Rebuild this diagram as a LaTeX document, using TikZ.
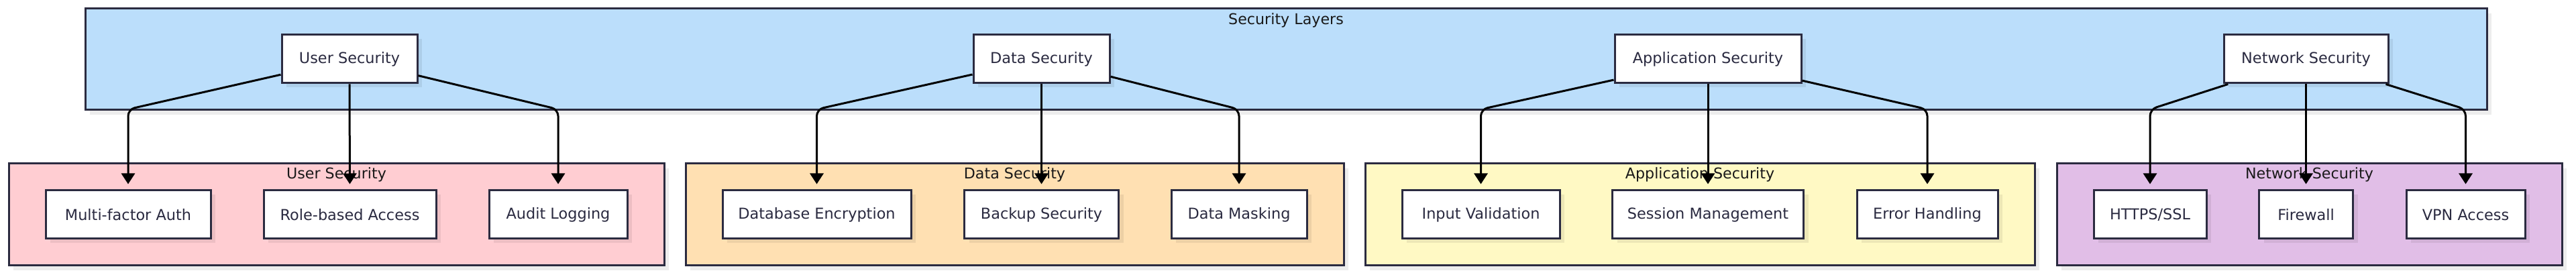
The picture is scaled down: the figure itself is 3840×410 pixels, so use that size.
\documentclass[tikz,border=0pt]{standalone}
\usepackage{fontspec}
\setmainfont{DejaVu Sans}
\newfontfamily\titlefont{DejaVu Sans}
\usetikzlibrary{arrows.meta,shadows}
\definecolor{bordc}{HTML}{2B2B40}
\definecolor{txtc}{HTML}{2A2A40}
\definecolor{blayer}{HTML}{BBDEFB}
\definecolor{cpink}{HTML}{FFCDD2}
\definecolor{corange}{HTML}{FFE0B2}
\definecolor{cyellow}{HTML}{FFF9C4}
\definecolor{cpurple}{HTML}{E1BEE7}
\tikzset{
  cluster/.style={draw=bordc, line width=1.5pt, inner sep=0pt,
    drop shadow={shadow xshift=3.5pt, shadow yshift=-3.5pt, opacity=0.07, fill=black}},
  ctitle/.style={font=\titlefont\fontsize{11.1pt}{13pt}\selectfont, text=black!90, inner sep=0pt, anchor=base},
  box/.style={draw=bordc, fill=white, line width=1.5pt, minimum height=36pt, inner sep=0pt,
    font=\fontsize{11.2pt}{13pt}\selectfont, text=txtc,
    drop shadow={shadow xshift=3.5pt, shadow yshift=-3pt, opacity=0.07, fill=black}},
  edge/.style={draw=black, line width=1.5pt, rounded corners=5pt,
    -{Triangle[width=10pt,length=8pt]}, shorten >=4pt}
}
\begin{document}
\begin{tikzpicture}[x=0.5pt,y=-0.5pt]
\useasboundingbox (0,0) rectangle (3840,410);
% clusters
\node[cluster, fill=blayer, minimum width=1790pt, minimum height=75.65pt] (layers) at (1917,88.35) {};
\node[cluster, fill=cpink, minimum width=488.5pt, minimum height=76pt] (cuser) at (501.5,320) {};
\node[cluster, fill=corange, minimum width=490.5pt, minimum height=76pt] (cdata) at (1512.5,320) {};
\node[cluster, fill=cyellow, minimum width=499pt, minimum height=76pt] (capp) at (2534,320) {};
\node[cluster, fill=cpurple, minimum width=376.5pt, minimum height=76pt] (cnet) at (3442.5,320) {};
% titles
\node[ctitle] (tlayers) at (1917,37) {Security Layers};
\node[ctitle] (tuser) at (501.5,267) {User Security};
\node[ctitle] (tdata) at (1512.5,267) {Data Security};
\node[ctitle] (tapp) at (2534,267) {Application Security};
\node[ctitle] (tnet) at (3442.5,267) {Network Security};
% top nodes
\node[box, minimum width=101pt] (us) at (521,88) {User Security};
\node[box, minimum width=101.5pt] (ds) at (1552.5,88) {Data Security};
\node[box, minimum width=139pt] (as) at (2546,88) {Application Security};
\node[box, minimum width=122.5pt] (ns) at (3437.5,88) {Network Security};
% leaves
\node[box, minimum width=123pt] (mfa) at (191,320) {Multi-factor Auth};
\node[box, minimum width=128.5pt] (rba) at (521.5,320) {Role-based Access};
\node[box, minimum width=103pt] (al) at (832,320) {Audit Logging};
\node[box, minimum width=140.5pt] (de) at (1217.5,320) {Database Encryption};
\node[box, minimum width=115pt] (bs) at (1552.5,320) {Backup Security};
\node[box, minimum width=101pt] (dm) at (1847,320) {Data Masking};
\node[box, minimum width=117.5pt] (iv) at (2207.5,320) {Input Validation};
\node[box, minimum width=142.5pt] (sm) at (2546,320) {Session Management};
\node[box, minimum width=105pt] (eh) at (2873,320) {Error Handling};
\node[box, minimum width=84pt] (https) at (3205,320) {HTTPS/SSL};
\node[box, minimum width=70pt] (fw) at (3437.5,320) {Firewall};
\node[box, minimum width=88.5pt] (vpn) at (3675.5,320) {VPN Access};
% bend points
\coordinate (b1) at (191,163);
\coordinate (b2) at (832,163);
\coordinate (b3) at (1217.5,163);
\coordinate (b4) at (1847,163);
\coordinate (b5) at (2207.5,163);
\coordinate (b6) at (2873,163);
\coordinate (b7) at (3205,163);
\coordinate (b8) at (3675.5,163);
% edges
\draw[edge] (us) -- (b1) -- (mfa.north);
\draw[edge] (us.south) -- (rba.north);
\draw[edge] (us) -- (b2) -- (al.north);
\draw[edge] (ds) -- (b3) -- (de.north);
\draw[edge] (ds.south) -- (bs.north);
\draw[edge] (ds) -- (b4) -- (dm.north);
\draw[edge] (as) -- (b5) -- (iv.north);
\draw[edge] (as.south) -- (sm.north);
\draw[edge] (as) -- (b6) -- (eh.north);
\draw[edge] (ns) -- (b7) -- (https.north);
\draw[edge] (ns.south) -- (fw.north);
\draw[edge] (ns) -- (b8) -- (vpn.north);
\end{tikzpicture}
\end{document}
